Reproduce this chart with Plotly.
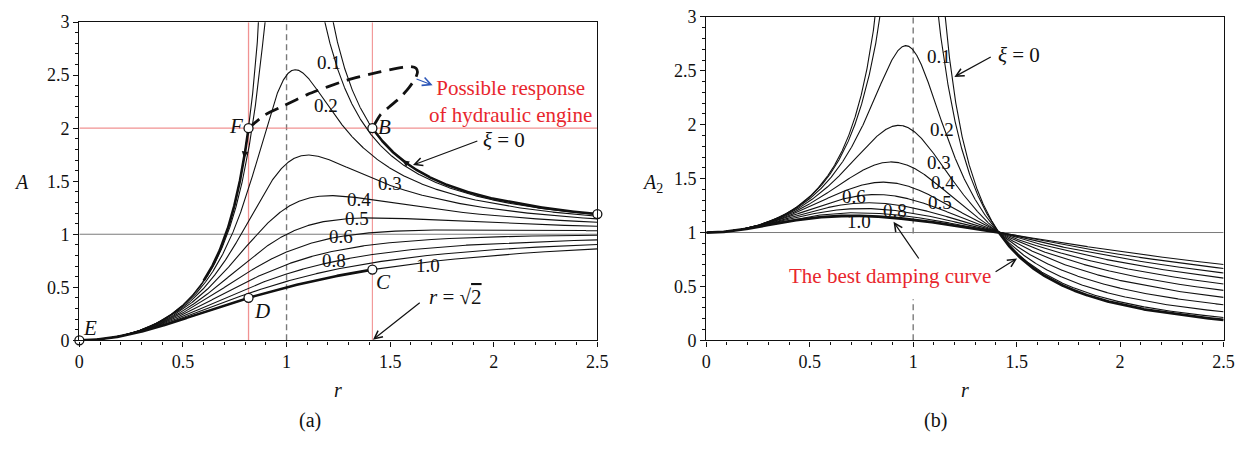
import numpy as np
import plotly.graph_objects as go

# ---------------------------------------------------------------------------
# Data
# ---------------------------------------------------------------------------
# damping ratios of the plotted curve family (both panels)
damping = [0.0, 0.1, 0.2, 0.3, 0.4, 0.5, 0.6, 0.7, 0.8, 0.9, 1.0]

# frequency-ratio axis
r_min, r_max = 0.0, 2.5
r_grid = np.linspace(r_min, r_max, 2501)
r_F = np.sqrt(2.0 / 3.0)      # where the undamped curve of (a) reaches A = 2
r_cross = np.sqrt(2.0)        # r = sqrt(2)

# curve labels, panel (a)
labels_a = ["0.1", "0.2", "0.3", "0.4", "0.5", "0.6", "0.8", "1.0"]
labels_a_r = [1.205, 1.19, 1.50, 1.348, 1.341, 1.261, 1.229, 1.682]
labels_a_y = [2.62, 2.21, 1.48, 1.33, 1.15, 0.98, 0.757, 0.703]

# curve labels, panel (b)
labels_b = ["0.1", "0.2", "0.3", "0.4", "0.5", "0.6", "0.8", "1.0"]
labels_b_r = [1.125, 1.139, 1.125, 1.144, 1.129, 0.714, 0.913, 0.738]
labels_b_y = [2.636, 1.957, 1.650, 1.468, 1.280, 1.336, 1.209, 1.105]

# marked operating points on panel (a): name, frequency ratio, damping ratio
point_names = ["E", "D", "F", "B", "C", "A"]
point_r = [0.0, r_F, r_F, r_cross, r_cross, 2.5]
point_xi = [1.0, 1.0, 0.0, 0.0, 1.0, 0.0]
point_label_r = [0.051, 0.88, 0.758, 1.475, 1.467, 2.535]
point_label_y = [0.112, 0.277, 2.018, 2.01, 0.547, 1.313]

# sketched response path of the hydraulic engine mount (F -> B)
engine_r = [r_F, 0.894, 0.990, 1.102, 1.293, 1.450, 1.560, 1.600, 1.625, 1.632, 1.622,
            1.590, 1.547, 1.495, 1.452, r_cross]
engine_A = [2.0, 2.123, 2.214, 2.319, 2.454, 2.530, 2.574, 2.580, 2.566, 2.530, 2.470,
            2.380, 2.285, 2.200, 2.124, 2.0]


# ---------------------------------------------------------------------------
# Response models
# ---------------------------------------------------------------------------
def response_a(r, xi):
    r = np.asarray(r, dtype=float)
    with np.errstate(divide="ignore", invalid="ignore"):
        v = r ** 2 / np.sqrt((1 - r ** 2) ** 2 + (2 * xi * r) ** 2)
    return np.where(np.isfinite(v) & (v < 20), v, np.nan)


def response_b(r, xi):
    r = np.asarray(r, dtype=float)
    with np.errstate(divide="ignore", invalid="ignore"):
        v = np.sqrt(1 + (2 * xi * r) ** 2) / np.sqrt((1 - r ** 2) ** 2 + (2 * xi * r) ** 2)
    return np.where(np.isfinite(v) & (v < 20), v, np.nan)


SERIF = "Liberation Serif"
BLACK = "#111111"
RED = "#e8262d"
PINK = "rgba(236,110,110,0.75)"
GRAY = "#7a7a7a"

fig = go.Figure()

# ---------------------------------------------------------------------------
# Panel (a)
# ---------------------------------------------------------------------------
for xi in damping:
    fig.add_trace(go.Scatter(x=r_grid, y=response_a(r_grid, xi), mode="lines",
                             line=dict(color=BLACK, width=1.1),
                             xaxis="x", yaxis="y", hoverinfo="skip"))

# emphasised branches
seg = r_grid[(r_grid >= 0.6) & (r_grid <= r_F)]
fig.add_trace(go.Scatter(x=seg, y=response_a(seg, 0.0), mode="lines",
                         line=dict(color=BLACK, width=2.6), xaxis="x", yaxis="y"))
seg = r_grid[r_grid >= r_cross]
fig.add_trace(go.Scatter(x=seg, y=response_a(seg, 0.0), mode="lines",
                         line=dict(color=BLACK, width=2.6), xaxis="x", yaxis="y"))
seg = r_grid[r_grid <= r_cross]
fig.add_trace(go.Scatter(x=seg, y=response_a(seg, 1.0), mode="lines",
                         line=dict(color=BLACK, width=2.6), xaxis="x", yaxis="y"))

# hydraulic engine path
fig.add_trace(go.Scatter(x=engine_r, y=engine_A, mode="lines",
                         line=dict(color=BLACK, width=2.8, dash="14px,8px", shape="spline", smoothing=0.6),
                         xaxis="x", yaxis="y", hoverinfo="skip"))

# operating points
pt_y = [float(response_a(rr, xx)) if rr > 0 else 0.0 for rr, xx in zip(point_r, point_xi)]
fig.add_trace(go.Scatter(x=point_r, y=pt_y, mode="markers",
                         marker=dict(size=9, color="white", line=dict(color=BLACK, width=1.3)),
                         cliponaxis=False, xaxis="x", yaxis="y"))

# ---------------------------------------------------------------------------
# Panel (b)
# ---------------------------------------------------------------------------
for xi in damping:
    fig.add_trace(go.Scatter(x=r_grid, y=response_b(r_grid, xi), mode="lines",
                             line=dict(color=BLACK, width=1.1),
                             xaxis="x2", yaxis="y2", hoverinfo="skip"))

# best damping curve: heavy damping below sqrt(2), none above
seg = r_grid[r_grid <= r_cross]
fig.add_trace(go.Scatter(x=seg, y=response_b(seg, 1.0), mode="lines",
                         line=dict(color=BLACK, width=2.8), xaxis="x2", yaxis="y2"))
seg = r_grid[r_grid >= r_cross]
fig.add_trace(go.Scatter(x=seg, y=response_b(seg, 0.0), mode="lines",
                         line=dict(color=BLACK, width=2.8), xaxis="x2", yaxis="y2"))

# ---------------------------------------------------------------------------
# Reference lines
# ---------------------------------------------------------------------------
shapes = [
    dict(type="line", xref="x", yref="y", x0=0, x1=2.5, y0=1, y1=1, line=dict(color=GRAY, width=1), layer="below"),
    dict(type="line", xref="x", yref="y", x0=1, x1=1, y0=0, y1=3, line=dict(color=GRAY, width=1.4, dash="6px,4px"), layer="below"),
    dict(type="line", xref="x", yref="y", x0=0, x1=2.5, y0=2, y1=2, line=dict(color=PINK, width=1.3), layer="below"),
    dict(type="line", xref="x", yref="y", x0=r_F, x1=r_F, y0=0, y1=3, line=dict(color=PINK, width=1.3), layer="below"),
    dict(type="line", xref="x", yref="y", x0=r_cross, x1=r_cross, y0=0, y1=3, line=dict(color=PINK, width=1.1), layer="below"),
    dict(type="line", xref="x2", yref="y2", x0=0, x1=2.5, y0=1, y1=1, line=dict(color=GRAY, width=1), layer="below"),
    dict(type="line", xref="x2", yref="y2", x0=1, x1=1, y0=0, y1=0.38, line=dict(color=GRAY, width=1.4, dash="6px,4px"), layer="below"),
    dict(type="line", xref="x2", yref="y2", x0=1, x1=1, y0=0.99, y1=3, line=dict(color=GRAY, width=1.4, dash="6px,4px"), layer="below"),
]

# ---------------------------------------------------------------------------
# Annotations
# ---------------------------------------------------------------------------
ann = []
lab_font = dict(family=SERIF, size=19, color=BLACK)
for t, x, y in zip(labels_a, labels_a_r, labels_a_y):
    ann.append(dict(x=x, y=y, xref="x", yref="y", text=t, showarrow=False, font=lab_font))
for t, x, y in zip(labels_b, labels_b_r, labels_b_y):
    ann.append(dict(x=x, y=y, xref="x2", yref="y2", text=t, showarrow=False, font=lab_font, borderpad=0))
for t, x, y in zip(point_names, point_label_r, point_label_y):
    ann.append(dict(x=x, y=y, xref="x", yref="y", text="<i>%s</i>" % t, showarrow=False,
                    font=dict(family=SERIF, size=21, color=BLACK)))


def arrow(xref, yref, x0, y0, x1, y1, color=BLACK, head=5, size=1.0, width=1.2):
    return dict(xref=xref, yref=yref, axref=xref, ayref=yref, x=x1, y=y1, ax=x0, ay=y0,
                text="", showarrow=True, arrowhead=head, arrowsize=size,
                arrowwidth=width, arrowcolor=color)


# panel (a) texts and arrows
ann.append(dict(x=2.047, y=1.884, xref="x", yref="y", text="<i>ξ</i> = 0", showarrow=False,
                font=dict(family=SERIF, size=21, color=BLACK)))
ann.append(arrow("x", "y", 1.928, 1.884, 1.61, 1.652, size=1.3))
ann.append(dict(x=1.817, y=0.41, xref="x", yref="y",
                text="<i>r</i> = √<span style='text-decoration:overline'>2</span>", showarrow=False,
                font=dict(family=SERIF, size=21, color=BLACK)))
ann.append(arrow("x", "y", 1.65, 0.366, 1.417, 0.006, size=1.3))
ann.append(dict(x=2.08, y=2.25, xref="x", yref="y", text="Possible response<br>of hydraulic engine",
                showarrow=False, font=dict(family=SERIF, size=21, color=RED)))
ann.append(arrow("x", "y", 1.620, 2.470, 1.705, 2.406, color="#2c56b8", head=5, size=1.5, width=1.1))
# direction marks on the undamped branch
ra, rb = 0.812, 0.795
ann.append(arrow("x", "y", ra, float(response_a(ra, 0.0)), rb, float(response_a(rb, 0.0)), head=2, size=1.1, width=1.2))
ra, rb = 1.60, 1.56
ann.append(arrow("x", "y", ra, float(response_a(ra, 0.0)), rb, float(response_a(rb, 0.0)), head=2, size=1.1, width=1.2))

# panel (b) texts and arrows
ann.append(dict(x=1.51, y=2.65, xref="x2", yref="y2", text="<i>ξ</i> = 0", showarrow=False,
                font=dict(family=SERIF, size=21, color=BLACK)))
ann.append(arrow("x2", "y2", 1.382, 2.636, 1.199, 2.444, size=1.3))
ann.append(dict(x=0.886, y=0.597, xref="x2", yref="y2", text="The best damping curve", showarrow=False,
                font=dict(family=SERIF, size=21, color=RED)))
ann.append(arrow("x2", "y2", 1.032, 0.745, 0.905, 1.099, size=1.3))
ann.append(arrow("x2", "y2", 1.391, 0.627, 1.502, 0.76, size=1.3))

# axis titles and panel captions
title_font = dict(family=SERIF, size=20, color=BLACK)
W, H = 1257, 449
for txt, px, py in [("<i>A</i>", 17, 180), ("<i>A</i><sub>2</sub>", 656, 182),
                    ("<i>r</i>", 337, 398), ("<i>r</i>", 972, 398),
                    ("(a)", 309, 430), ("(b)", 942, 430)]:
    ann.append(dict(x=px / W, y=1 - py / H, xref="paper", yref="paper", text=txt,
                    showarrow=False, font=title_font, xanchor="center", yanchor="middle"))


def axis_style(domain, anchor, rng, dtick):
    return dict(domain=domain, anchor=anchor, range=rng, dtick=dtick, tick0=0,
                showgrid=False, zeroline=False, showline=True, linecolor=BLACK, linewidth=1.4,
                mirror=True, ticks="outside", ticklen=5, tickwidth=1.2, tickcolor=BLACK,
                tickfont=dict(family=SERIF, size=18, color=BLACK),
                minor=dict(dtick=0.1, tick0=0, ticks="outside", ticklen=3, tickwidth=1, tickcolor=BLACK))


fig.update_layout(
    width=W, height=H,
    margin=dict(l=0, r=0, t=0, b=0),
    paper_bgcolor="white", plot_bgcolor="white",
    showlegend=False,
    xaxis=axis_style([75.3 / W, 600.0 / W], "y", [0, 2.5], 0.5),
    yaxis=axis_style([1 - 345.7 / H, 1 - 12.7 / H], "x", [0, 3], 0.5),
    xaxis2=axis_style([710.3 / W, 1234.3 / W], "y2", [0, 2.5], 0.5),
    yaxis2=axis_style([1 - 345.7 / H, 1 - 7.3 / H], "x2", [0, 3], 0.5),
    shapes=shapes,
    annotations=ann,
)

fig.write_html("out.html")
